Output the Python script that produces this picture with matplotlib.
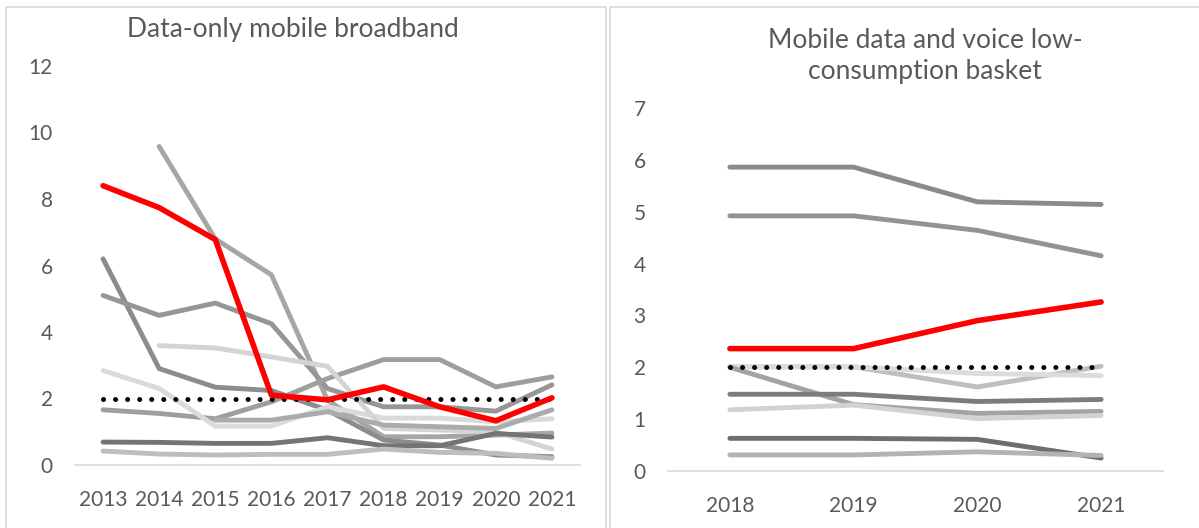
import numpy as np
import matplotlib.pyplot as plt
from matplotlib.patches import Rectangle

plt.rcParams['font.family'] = ['Lato', 'DejaVu Sans']

# left panel: data-only mobile broadband
years_l = ['2013', '2014', '2015', '2016', '2017', '2018', '2019', '2020', '2021']
red_l = [8.4, 7.74, 6.78, 2.1, 1.96, 2.35, 1.75, 1.33, 2.02]
avg_l = [2.0, 2.0, 2.0, 2.0, 2.0, 2.0, 2.0, 2.0, 2.0]
grey_l = [
    [np.nan, 9.58, 6.8, 5.72, 1.95, 0.85, 0.85, 0.9, 0.96],
    [6.2, 2.9, 2.34, 2.24, 1.65, 0.75, 0.6, 0.3, 0.25],
    [5.1, 4.5, 4.87, 4.25, 2.3, 1.75, 1.75, 1.62, 2.41],
    [1.66, 1.55, 1.39, 1.9, 2.6, 3.17, 3.17, 2.35, 2.65],
    [2.84, 2.3, 1.17, 1.17, 1.75, 1.41, 1.41, 1.3, 1.39],
    [np.nan, 3.59, 3.52, 3.25, 2.97, 1.1, 1.05, 1.0, 0.48],
    [0.69, 0.68, 0.65, 0.65, 0.82, 0.58, 0.58, 0.95, 0.84],
    [0.42, 0.33, 0.3, 0.32, 0.32, 0.48, 0.38, 0.35, 0.2],
    [np.nan, np.nan, 1.35, 1.35, 1.6, 1.2, 1.15, 1.1, 1.66],
]
grey_l_colors = ['#A6A6A6', '#8C8C8C', '#969696', '#9E9E9E', '#DADADA',
                 '#D4D4D4', '#747474', '#BDBDBD', '#ABABAB']

# right panel: mobile data and voice low-consumption basket
years_r = ['2018', '2019', '2020', '2021']
red_r = [2.36, 2.36, 2.9, 3.26]
avg_r = [2.0, 2.0, 2.0, 2.0]
grey_r = [
    [5.86, 5.86, 5.19, 5.14],
    [4.92, 4.92, 4.64, 4.15],
    [2.01, 2.01, 1.62, 2.02],
    [2.01, 2.01, 1.88, 1.84],
    [2.0, 1.28, 1.11, 1.15],
    [1.48, 1.48, 1.34, 1.38],
    [1.18, 1.27, 1.01, 1.07],
    [0.63, 0.63, 0.61, 0.25],
    [0.31, 0.31, 0.37, 0.3],
]
grey_r_colors = ['#8A8A8A', '#939393', '#BFBFBF', '#DCDCDC', '#A3A3A3',
                 '#7C7C7C', '#D2D2D2', '#6E6E6E', '#B3B3B3']

txt = '#595959'
fig = plt.figure(figsize=(11.99, 5.28), dpi=100)

# panel borders
fig.patches.append(Rectangle((6 / 1199, -0.05), 600 / 1199, 1 - 7 / 528 + 0.05,
                             transform=fig.transFigure, fill=False,
                             edgecolor='#D9D9D9', lw=1.2))
fig.patches.append(Rectangle((610 / 1199, -0.05), 600 / 1199, 1 - 7 / 528 + 0.05,
                             transform=fig.transFigure, fill=False,
                             edgecolor='#D9D9D9', lw=1.2))


def style(ax, n, ymax, step):
    ax.set_xlim(-0.5, n - 0.5)
    ax.set_ylim(0, ymax)
    ax.set_yticks(np.arange(0, ymax + 0.1, step))
    for s in ['top', 'right', 'left']:
        ax.spines[s].set_visible(False)
    ax.spines['bottom'].set_color('#D9D9D9')
    ax.spines['bottom'].set_linewidth(1.2)
    ax.tick_params(length=0, colors=txt, labelsize=15)
    ax.tick_params(axis='y', pad=16)
    ax.tick_params(axis='x', pad=18)
    ax.set_facecolor('none')


def draw(ax, x, greys, colors, avg, red):
    for vals, c in zip(greys, colors):
        ax.plot(x, vals, color=c, lw=3.5, solid_capstyle='round',
                solid_joinstyle='round')
    ax.plot(x, avg, color='black', lw=3.6, linestyle=(0, (0.01, 2.4)),
            dash_capstyle='round')
    ax.plot(x, red, color='#FF0000', lw=4, solid_capstyle='round',
            solid_joinstyle='round')


ax1 = fig.add_axes([75 / 1199, 63 / 528, 505 / 1199, 399 / 528])
x1 = np.arange(len(years_l))
draw(ax1, x1, grey_l, grey_l_colors, avg_l, red_l)
style(ax1, len(years_l), 12, 2)
ax1.set_xticks(x1)
ax1.set_xticklabels(years_l)
fig.text(293 / 1199, 1 - 29 / 528, 'Data-only mobile broadband', ha='center',
         va='center', fontsize=19, color=txt)

ax2 = fig.add_axes([668 / 1199, 57 / 528, 495 / 1199, 363 / 528])
x2 = np.arange(len(years_r))
draw(ax2, x2, grey_r, grey_r_colors, avg_r, red_r)
style(ax2, len(years_r), 7, 1)
ax2.set_xticks(x2)
ax2.set_xticklabels(years_r)
fig.text(925 / 1199, 1 - 56 / 528, 'Mobile data and voice low-\nconsumption basket',
         ha='center', va='center', fontsize=19, color=txt, linespacing=1.25)

fig.savefig('out.png', dpi=100)
